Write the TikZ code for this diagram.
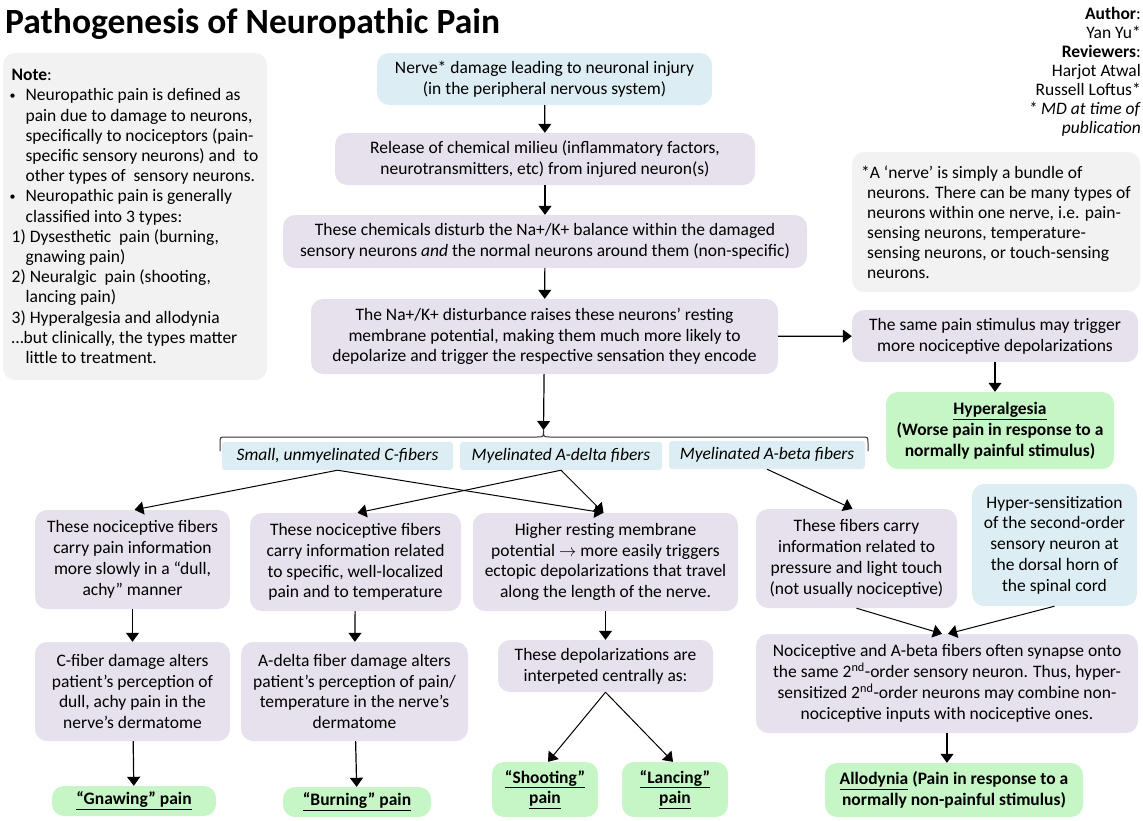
\documentclass[tikz,border=0pt]{standalone}
\usepackage{fontspec}
\setmainfont{Carlito}
\usepackage{tikz}
\usetikzlibrary{arrows.meta, positioning}
\definecolor{boxgray}{HTML}{E6E1EC}
\definecolor{boxblue}{HTML}{DCEEF3}
\definecolor{boxgreen}{HTML}{C6F6C6}
\definecolor{notegray}{HTML}{F2F2F2}
\tikzstyle{arrow}=[-{Triangle[width=13pt,length=9pt]}, line width=1.2pt, color=black]
\newcommand{\notebullet}{\makebox[14pt][l]{\hspace{-2pt}\raisebox{1.5pt}{\fontsize{12}{12}\selectfont\textbullet}}}

\begin{document}
\begin{tikzpicture}[x=1pt, y=-1pt,
  mod/.style={rectangle, rounded corners=12pt, fill=boxgray, align=center,
              inner sep=2pt, font=\fontsize{17.5}{20.8}\selectfont},
  fiber/.style={rectangle, rounded corners=3pt, fill=boxblue, align=center,
                inner sep=2pt, font=\itshape\fontsize{17.5}{20.8}\selectfont},
  result/.style={mod, fill=boxgreen, font=\bfseries\fontsize{17.5}{20.8}\selectfont},
  notebox/.style={mod, fill=notegray, align=left, font=\fontsize{17.5}{20.2}\selectfont},
  wh/.style 2 args={minimum width=#1pt, minimum height=#2pt}
]
\useasboundingbox (0,0) rectangle (1143,820);

% Title, credits and side notes
\node[anchor=base west, inner sep=0, font=\bfseries\fontsize{35.5}{40}\selectfont] (title) at (5,33) {Pathogenesis of Neuropathic Pain};
\node[anchor=east, align=right, inner sep=0, font=\fontsize{17.5}{19}\selectfont] (credits) at (1141,71.5)
  {\textbf{Author}:\\Yan Yu*\\\textbf{Reviewers}:\\Harjot Atwal\\Russell Loftus*\\\textit{* MD at time of}\\\textit{publication}};
\node[notebox, wh={264}{327}] (note) at (135,216.5) {\textbf{Note}:\\
  \notebullet Neuropathic pain is defined as\\
  \hspace*{14pt}pain due to damage to neurons,\\
  \hspace*{14pt}specifically to nociceptors (pain-\\
  \hspace*{14pt}specific sensory neurons) and\ \ to\\
  \hspace*{14pt}other types of\ \ sensory neurons.\\
  \notebullet Neuropathic pain is generally\\
  \hspace*{14pt}classified into 3 types:\\
  1) Dysesthetic\ \ pain (burning,\\
  \hspace*{14pt}gnawing pain)\\
  2) Neuralgic\ \ pain (shooting,\\
  \hspace*{14pt}lancing pain)\\
  3) Hyperalgesia and allodynia\\
  …but clinically, the types matter\\
  \hspace*{14pt}little to treatment.};
\node[notebox, wh={288}{140}, font=\fontsize{17.5}{20}\selectfont] (nervenote) at (996,222) {*A ‘nerve’ is simply a bundle of\\
  \hspace*{6pt}neurons. There can be many types of\\
  \hspace*{6pt}neurons within one nerve, i.e. pain-\\
  \hspace*{6pt}sensing neurons, temperature-\\
  \hspace*{6pt}sensing neurons, or touch-sensing\\
  \hspace*{6pt}neurons.};

% Main chain
\node[mod, fill=boxblue, wh={335}{52}] (nerve) at (544.5,79) {Nerve* damage leading to neuronal injury\\(in the peripheral nervous system)};
\node[mod, wh={420}{52}] (release) at (545,159) {Release of chemical milieu (inflammatory factors,\\neurotransmitters, etc) from injured neuron(s)};
\node[mod, wh={524}{53}] (balance) at (545,241.5) {These chemicals disturb the Na+/K+ balance within the damaged\\sensory neurons \textit{and} the normal neurons around them (non-specific)};
\node[mod, wh={467}{75}] (potential) at (544.5,336.5) {The Na+/K+ disturbance raises these neurons’ resting\\membrane potential, making them much more likely to\\depolarize and trigger the respective sensation they encode};

% Hyperalgesia branch
\node[mod, wh={286}{52}] (stimulus) at (995,336) {The same pain stimulus may trigger\\more nociceptive depolarizations};
\node[result, wh={228}{77}] (hyperalg) at (1000,430.5) {\underline{Hyperalgesia}\\(Worse pain in response to a\\normally painful stimulus)};

% Fiber types
\node[fiber, wh={231}{28}] (cfib) at (337.5,456) {Small, unmyelinated C-fibers};
\node[fiber, wh={202}{28}] (adfib) at (561,456) {Myelinated A-delta fibers};
\node[fiber, wh={196}{28}] (abfib) at (767,455) {Myelinated A-beta fibers};
\coordinate (bracetip) at (543.5,430);

% Column 1: C-fibers
\node[mod, wh={195}{99}] (cslow) at (132.5,559.5) {These nociceptive fibers\\carry pain information\\more slowly in a “dull,\\achy” manner};
\node[mod, wh={195}{99}] (cdamage) at (132.5,691.5) {C-fiber damage alters\\patient’s perception of\\dull, achy pain in the\\nerve’s dermatome};
\node[result, wh={164}{30}] (gnaw) at (134,801) {\underline{“Gnawing” pain}};

% Column 2: A-delta fibers
\node[mod, wh={211}{98}] (dloc) at (355.5,562) {These nociceptive fibers\\carry information related\\to specific, well-localized\\pain and to temperature};
\node[mod, wh={227}{99}] (ddamage) at (354.5,691.5) {A-delta fiber damage alters\\patient’s perception of pain/\\temperature in the nerve’s\\dermatome};
\node[result, wh={148}{30}] (burn) at (357,802) {\underline{“Burning” pain}};

% Column 3: ectopic firing
\node[mod, wh={265}{98}] (ectopic) at (605.5,562) {Higher resting membrane\\potential $\rightarrow$ more easily triggers\\ectopic depolarizations that travel\\along the length of the nerve.};
\node[mod, wh={215}{52}] (central) at (605.5,666) {These depolarizations are\\interpeted centrally as:};
\node[result, wh={106}{55}] (shoot) at (545,789.5) {\underline{“Shooting”}\\\underline{pain}};
\node[result, wh={106}{55}] (lance) at (675,789.5) {\underline{“Lancing”}\\\underline{pain}};

% Column 4: A-beta fibers and allodynia
\node[mod, wh={201}{99}] (btouch) at (856.5,558.5) {These fibers carry\\information related to\\pressure and light touch\\(not usually nociceptive)};
\node[mod, fill=boxblue, wh={165}{122}] (hypersens) at (1054.5,545) {Hyper-sensitization\\of the second-order\\sensory neuron at\\the dorsal horn of\\the spinal cord};
\node[mod, wh={382}{99}] (synapse) at (947,683.5) {Nociceptive and A-beta fibers often synapse onto\\the same 2\textsuperscript{nd}-order sensory neuron. Thus, hyper-\\sensitized 2\textsuperscript{nd}-order neurons may combine non-\\nociceptive inputs with nociceptive ones.};
\node[result, wh={258}{54}] (allo) at (954,790) {\underline{Allodynia} (Pain in response to a\\normally non-painful stimulus)};

% Brace over the fiber types
\draw[line width=1pt, color=black!80] (220,451) -- (220,443) .. controls (220,437) .. (226,437) -- (537,437)
  .. controls (543.5,437) .. (bracetip) .. controls (543.5,437) .. (550,437) -- (862,437)
  .. controls (868,437) .. (868,443) -- (868,451);

% Arrows
\draw[arrow] (nerve) -- (release);
\draw[arrow] (release) -- (balance);
\draw[arrow] (balance) -- (potential);
\draw[arrow] (potential) -- (stimulus);
\draw[arrow] (stimulus.south) -- (stimulus.south |- hyperalg.north);
\draw[arrow] (potential) -- (bracetip);
\draw[arrow, line width=1pt] (cfib.south) -- ([xshift=2pt]cslow.north);
\draw[arrow, line width=1pt] (cfib.south) -- ([xshift=-2pt]ectopic.north);
\draw[arrow, line width=1pt] (adfib.south) -- ([xshift=2pt]dloc.north);
\draw[arrow, line width=1pt] (adfib.south) -- ([xshift=-2pt]ectopic.north);
\draw[arrow, line width=1pt] (abfib.south) -- ([xshift=-4pt]btouch.north);
\draw[arrow] (cslow) -- (cdamage);
\draw[arrow] (cdamage) -- (gnaw);
\draw[arrow] (dloc) -- (ddamage);
\draw[arrow] (ddamage) -- (burn);
\draw[arrow] (ectopic) -- (central);
\draw[arrow, line width=1pt] (central.south) -- ([xshift=3pt]shoot.north);
\draw[arrow, line width=1pt] (central.south) -- ([xshift=-2pt]lance.north);
\draw[arrow, line width=1pt] (btouch.south) -- ([xshift=-5pt]synapse.north);
\draw[arrow, line width=1pt] (hypersens.south) -- ([xshift=1pt]synapse.north);
\draw[arrow] (synapse.south) -- (synapse.south |- allo.north);
\end{tikzpicture}
\end{document}
